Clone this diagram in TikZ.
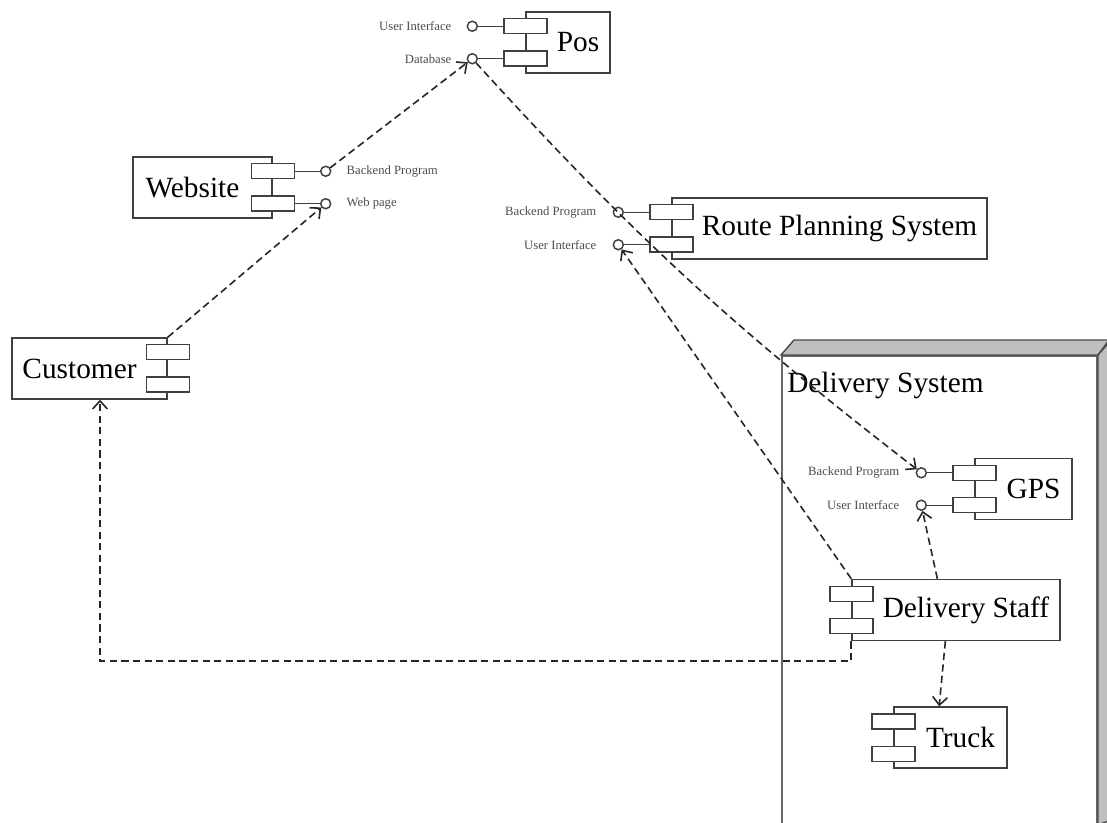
\documentclass[tikz,border=0pt]{standalone}
\usepackage{fontspec}
\setmainfont{Liberation Serif}
\usetikzlibrary{arrows.meta,positioning}

\begin{document}
\begin{tikzpicture}[x=0.75pt,y=-0.75pt,
  comp/.style={draw=black!75,line width=1.1pt,fill=white,minimum height=45.75pt,inner sep=0pt,font=\fontsize{22}{25}\selectfont},
  icl/.style={comp,execute at begin node={\hspace*{15pt}}},% icons on the left
  icr/.style={comp,execute at end node={\hspace*{15pt}}},% icons on the right
  port/.style={draw=black!75,line width=1.1pt,fill=white,minimum width=32.25pt,minimum height=11.25pt,inner sep=0pt},
  lolli/.style={circle,draw=black!75,line width=1.1pt,fill=white,minimum size=7.5pt,inner sep=0pt},
  stick/.style={black!75,line width=1.1pt},
  iface/.style={font=\fontsize{9.5}{11}\selectfont,text=black!70,inner sep=0pt},
  dep/.style={draw=black!85,line width=1.2pt,dash pattern=on 5.5pt off 3.2pt,-{Straight Barb[length=6pt,width=11pt]}}]
\useasboundingbox (0,0) rectangle (1107,823);
\fill[white] (0,0) rectangle (1107,823);
\clip (0,0) rectangle (1107,823);

% delivery system package
\node[draw=black!60,line width=1.5pt,fill=white,minimum width=236.25pt,minimum height=351pt,inner sep=0pt] (dsys) at (939.5,590) {};
\draw[black!70,line width=1.1pt,fill=black!25] (dsys.north west) -- ++(13,-15) -- ++(315,0) -- (dsys.north east) -- cycle;
\draw[black!70,line width=1.1pt,fill=black!25] (dsys.north east) -- ++(13,-15) -- ++(0,480) -- (dsys.south east) -- cycle;
\node[anchor=west,inner sep=0pt,font=\fontsize{22}{25}\selectfont] (dsyslbl) at (787,385) {Delivery System};

% Pos
\node[icl,minimum width=63pt] (pos) at (568,42.5) {Pos};
\node[port] (posp1) at ([yshift=-11.25pt]pos.north west) {};
\node[port] (posp2) at ([yshift=11.25pt]pos.south west) {};
\node[lolli,left=18.75pt of posp1] (posui) {};
\node[lolli,left=18.75pt of posp2] (posdb) {};
\draw[stick] (posp1) -- (posui);
\draw[stick] (posp2) -- (posdb);
\node[iface,left=11.25pt of posui] (posuit) {User Interface};
\node[iface,left=11.25pt of posdb] (posdbt) {Database};

% Website
\node[icr,minimum width=104.25pt] (web) at (202.5,187.5) {Website};
\node[port] (webp1) at ([yshift=-11.25pt]web.north east) {};
\node[port] (webp2) at ([yshift=11.25pt]web.south east) {};
\node[lolli,right=18.75pt of webp1] (webbe) {};
\node[lolli,right=18.75pt of webp2] (webwp) {};
\draw[stick] (webp1) -- (webbe);
\draw[stick] (webp2) -- (webwp);
\node[iface,right=11.25pt of webbe] (webbet) {Backend Program};
\node[iface,right=11.25pt of webwp] (webwpt) {Web page};

% Route Planning System
\node[icl,minimum width=236.25pt] (rps) at (829.5,228.5) {Route Planning System};
\node[port] (rpsp1) at ([yshift=-11.25pt]rps.north west) {};
\node[port] (rpsp2) at ([yshift=11.25pt]rps.south west) {};
\node[lolli,left=18.75pt of rpsp1] (rpsbe) {};
\node[lolli,left=18.75pt of rpsp2] (rpsui) {};
\draw[stick] (rpsp1) -- (rpsbe);
\draw[stick] (rpsp2) -- (rpsui);
\node[iface,left=12pt of rpsbe] (rpsbet) {Backend Program};
\node[iface,left=12pt of rpsui] (rpsuit) {User Interface};

% Customer
\node[icr,minimum width=116.25pt] (cust) at (89.5,368.5) {Customer};
\node[port] (custp1) at ([yshift=-11.25pt]cust.north east) {};
\node[port] (custp2) at ([yshift=11.25pt]cust.south east) {};

% GPS
\node[icl,minimum width=72.75pt] (gps) at (1023.5,489) {GPS};
\node[port] (gpsp1) at ([yshift=-11.25pt]gps.north west) {};
\node[port] (gpsp2) at ([yshift=11.25pt]gps.south west) {};
\node[lolli,left=18.75pt of gpsp1] (gpsbe) {};
\node[lolli,left=18.75pt of gpsp2] (gpsui) {};
\draw[stick] (gpsp1) -- (gpsbe);
\draw[stick] (gpsp2) -- (gpsui);
\node[iface,left=12pt of gpsbe] (gpsbet) {Backend Program};
\node[iface,left=12pt of gpsui] (gpsuit) {User Interface};

% Delivery Staff and Truck
\node[icl,minimum width=156pt] (staff) at (956,610) {Delivery Staff};
\node[port] (staffp1) at ([yshift=-11.25pt]staff.north west) {};
\node[port] (staffp2) at ([yshift=11.25pt]staff.south west) {};
\node[icl,minimum width=84.75pt] (truck) at (950.5,737.5) {Truck};
\node[port] (truckp1) at ([yshift=-11.25pt]truck.north west) {};
\node[port] (truckp2) at ([yshift=11.25pt]truck.south west) {};

% dependencies
\draw[dep] (webbe) -- (posdb);
\draw[dep] (cust.north east) -- (webwp);
\draw[dep] (posdb) to[bend right=5] (gpsbe);
\draw[dep] (staff.north west) -- (rpsui);
\draw[dep] ([xshift=-14pt]staff.north) -- (gpsui);
\draw[dep] ([xshift=-8pt]staff.south) -- ([xshift=-8.5pt]truck.north);
\coordinate (back) at (100,661);
\draw[dep] (staff.south west) |- (back) -- (back |- cust.south);
\end{tikzpicture}
\end{document}
